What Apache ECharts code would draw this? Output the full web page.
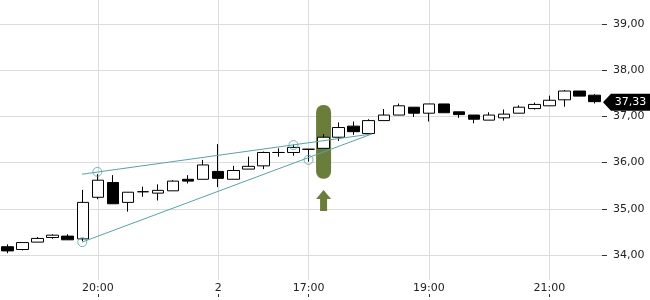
<!DOCTYPE html>
<html>
<head>
<meta charset="utf-8">
<script src="https://cdn.jsdelivr.net/npm/echarts@6/dist/echarts.min.js"></script>
<style>html,body{margin:0;padding:0;background:#fff}#c{width:650px;height:300px}</style>
</head>
<body>
<div id="c"></div>
<script>
const categories = [
 '1 17:00','1 17:30','1 18:00','1 18:30','1 19:00','1 19:30','1 20:00','1 20:30','1 21:00','1 21:30',
 '1 22:00','1 22:30','1 23:00','1 23:30','2 15:30','2 15:45','2 16:00','2 16:15','2 16:30','2 16:45',
 '2 17:00','2 17:15','2 17:30','2 17:45','2 18:00','2 18:15','2 18:30','2 18:45','2 19:00','2 19:15',
 '2 19:30','2 19:45','2 20:00','2 20:15','2 20:30','2 20:45','2 21:00','2 21:15','2 21:30','2 21:45'];
const tickLabelIndex = [6, 14, 20, 28, 36];
const tickLabelText = ['20:00', '2', '17:00', '19:00', '21:00'];

const open  = [34.18,34.12,34.28,34.38,34.41,34.35,35.25,35.57,35.14,35.37,
               35.34,35.39,35.64,35.64,35.81,35.64,35.86,35.93,36.22,36.22,
               36.29,36.31,36.55,36.79,36.63,36.91,37.03,37.20,37.07,37.27,
               37.10,37.03,36.92,36.97,37.07,37.17,37.23,37.36,37.55,37.46];
const close = [34.09,34.27,34.36,34.43,34.33,35.14,35.62,35.11,35.36,35.37,
               35.40,35.60,35.60,35.95,35.66,35.83,35.92,36.22,36.22,36.33,
               36.29,36.55,36.76,36.67,36.91,37.03,37.23,37.07,37.27,37.08,
               37.04,36.94,37.03,37.05,37.20,37.26,37.35,37.55,37.44,37.32];
const low   = [34.04,34.10,34.28,34.35,34.33,34.30,35.21,35.11,34.94,35.26,
               35.18,35.39,35.55,35.64,35.47,35.64,35.86,35.86,36.13,36.15,
               36.02,36.31,36.47,36.60,36.63,36.91,37.03,36.99,36.89,37.08,
               36.97,36.85,36.92,36.91,37.07,37.15,37.23,37.21,37.44,37.28];
const high  = [34.23,34.27,34.39,34.45,34.45,35.41,35.75,35.73,35.36,35.48,
               35.53,35.62,35.73,36.06,36.40,35.93,36.13,36.24,36.31,36.39,
               36.29,36.62,36.87,36.89,36.94,37.16,37.28,37.20,37.27,37.27,
               37.10,37.03,37.09,37.15,37.24,37.30,37.45,37.57,37.55,37.48];

const upperLine = [[4.95, 35.75], [24.2, 36.62]];
const lowerLine = [[4.95, 34.28], [24.2, 36.62]];
const pivots = [[5.97, 35.80], [19.0, 36.38], [4.97, 34.28], [20.0, 36.06]];
const highlight = [[21, 35.65, 37.25]];
const arrowPoint = [[21, 35.41]];
const lastPrice = 37.33;

const candleData = open.map((o, i) => [o, close[i], low[i], high[i]]);
const TEAL = '#58a2a6';
const GREEN = '#6b7d3a';
const labelFn = (idx) => tickLabelIndex.indexOf(idx) >= 0;

const chart = echarts.init(document.getElementById('c'), null, {renderer: 'canvas'});
chart.setOption({
  animation: false,
  textStyle: {fontFamily: 'DejaVu Sans'},
  grid: {left: 0, right: 48, top: 0, bottom: 20, containLabel: false},
  xAxis: [
    {type: 'category', data: categories, boundaryGap: true,
     axisLine: {show: false, onZero: false}, axisTick: {show: false},
     axisLabel: {interval: labelFn, margin: 3, fontSize: 11, color: '#222', fontFamily: 'DejaVu Sans',
       formatter: (v, idx) => tickLabelText[tickLabelIndex.indexOf(idx)] || ''},
     splitLine: {show: true, interval: labelFn, alignWithLabel: true, lineStyle: {color: '#dcdcdc', width: 1}}},
    {type: 'value', min: -0.5, max: 39.5, show: false, axisLine: {onZero: false}},
    {type: 'category', data: categories, boundaryGap: true, position: 'bottom', offset: 14,
     axisLine: {show: false, onZero: false}, axisLabel: {show: false}, splitLine: {show: false},
     axisTick: {show: true, interval: labelFn, alignWithLabel: true, length: 3, lineStyle: {color: '#333'}}}
  ],
  yAxis: {type: 'value', position: 'right', min: 33.46, max: 39.52, scale: true,
    axisLine: {show: false, onZero: false},
    axisTick: {show: true, length: 5, lineStyle: {color: '#333'}},
    axisLabel: {margin: 11, fontSize: 11, color: '#222', fontFamily: 'DejaVu Sans',
      showMinLabel: false, showMaxLabel: false,
      formatter: v => v.toFixed(2).replace('.', ',')},
    splitLine: {show: true, showMinLine: false, showMaxLine: false, lineStyle: {color: '#dcdcdc', width: 1}}},
  series: [
    {type: 'custom', xAxisIndex: 0, z: 1, data: highlight,
     renderItem: (params, api) => {
       const top = api.coord([api.value(0), api.value(2)]);
       const bot = api.coord([api.value(0), api.value(1)]);
       const w = 15;
       return {type: 'rect', shape: {x: top[0] - w / 2, y: top[1], width: w, height: bot[1] - top[1], r: 7},
               style: {fill: GREEN}};
     }},
    {type: 'custom', xAxisIndex: 0, z: 1, data: arrowPoint,
     renderItem: (params, api) => {
       const p = api.coord([api.value(0), api.value(1)]);
       const x = p[0], y = p[1];
       return {type: 'polygon', shape: {points: [[x, y], [x + 7.5, y + 9], [x + 3.5, y + 9], [x + 3.5, y + 21],
               [x - 3.5, y + 21], [x - 3.5, y + 9], [x - 7.5, y + 9]]}, style: {fill: GREEN}};
     }},
    {type: 'candlestick', xAxisIndex: 0, z: 3, data: candleData, barWidth: 12,
     itemStyle: {color: '#ffffff', color0: '#000000', borderColor: '#000000', borderColor0: '#000000', borderWidth: 1},
     markPoint: {symbol: 'path://M0,8.5 L8,0 L47,0 L47,17 L8,17 Z', symbolSize: [47, 17], symbolOffset: [32, 1],
       symbolKeepAspect: false, silent: true,
       itemStyle: {color: '#000'},
       label: {show: true, color: '#fff', fontSize: 11, fontFamily: 'DejaVu Sans', offset: [4, 0],
         formatter: () => lastPrice.toFixed(2).replace('.', ',')},
       data: [{coord: [categories[categories.length - 1], lastPrice]}]}},
    {type: 'line', xAxisIndex: 1, z: 4, data: upperLine, symbol: 'none', lineStyle: {color: TEAL, width: 1}},
    {type: 'line', xAxisIndex: 1, z: 4, data: lowerLine, symbol: 'none', lineStyle: {color: TEAL, width: 1}},
    {type: 'scatter', xAxisIndex: 1, z: 5, data: pivots, symbol: 'circle', symbolSize: 9,
     itemStyle: {color: 'rgba(0,0,0,0)', borderColor: TEAL, borderWidth: 1}}
  ]
});
</script>
</body>
</html>
